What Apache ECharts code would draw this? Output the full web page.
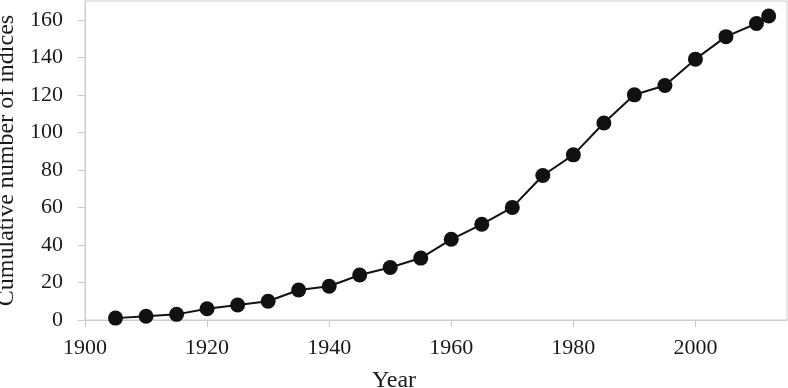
<!DOCTYPE html>
<html>
<head>
<meta charset="utf-8">
<script src="https://cdn.jsdelivr.net/npm/echarts@6/dist/echarts.min.js"></script>
<style>
html, body { margin: 0; padding: 0; background: #fff; }
#chart { width: 788px; height: 388px; }
</style>
</head>
<body>
<div id="chart"></div>
<script>
// 数据
var years = [1905, 1910, 1915, 1920, 1925, 1930, 1935, 1940, 1945, 1950, 1955, 1960,
	1965, 1970, 1975, 1980, 1985, 1990, 1995, 2000, 2005, 2010, 2012];
var counts = [1, 2, 3, 6, 8, 10, 16, 18, 24, 28, 33, 43,
	51, 60, 77, 88, 105, 120, 125, 139, 151, 158, 162];
var xTicks = [1900, 1920, 1940, 1960, 1980, 2000];
var yTicks = [0, 20, 40, 60, 80, 100, 120, 140, 160];

var points = [];
for (var i = 0; i < years.length; i++) {
	points.push([years[i], counts[i]]);
}

var font = '"Liberation Serif", "DejaVu Serif", serif';
var myChart = echarts.init(document.getElementById('chart'));
var option = {
	animation: false,
	title: {
		text: 'Year',
		left: 'center',
		top: 369,
		padding: 0,
		textStyle: {
			fontFamily: font,
			fontSize: 24,
			fontWeight: 'normal',
			color: '#1a1a1a'
		}
	},
	grid: {
		left: 85,
		right: 1,
		top: 1,
		bottom: 68,
		outerBoundsMode: 'none',
		show: true,
		borderColor: '#cccccc',
		borderWidth: 1
	},
	xAxis: {
		type: 'value',
		min: 1900,
		max: 2015,
		interval: 20,
		splitLine: { show: false },
		axisLine: { show: true, lineStyle: { color: '#cccccc', width: 1 } },
		axisTick: { show: true, length: 7, customValues: xTicks, lineStyle: { color: '#cccccc' } },
		axisLabel: {
			customValues: xTicks,
			formatter: function(v) { return String(v); },
			margin: 17,
			fontFamily: font,
			fontSize: 22,
			color: '#1a1a1a'
		}
	},
	yAxis: {
		type: 'value',
		min: 0,
		max: 170,
		interval: 20,
		name: 'Cumulative number of indices',
		nameLocation: 'middle',
		nameGap: 66,
		nameTextStyle: {
			fontFamily: font,
			fontSize: 24,
			color: '#1a1a1a'
		},
		splitLine: { show: false },
		axisLine: { show: true, lineStyle: { color: '#cccccc', width: 1 } },
		axisTick: { show: true, length: 7, customValues: yTicks, lineStyle: { color: '#cccccc' } },
		axisLabel: {
			customValues: yTicks,
			formatter: function(v) { return String(v); },
			margin: 22,
			fontFamily: font,
			fontSize: 22,
			color: '#1a1a1a'
		}
	},
	series: [{
		type: 'line',
		data: points,
		symbol: 'circle',
		symbolSize: 15,
		itemStyle: { color: '#111111' },
		lineStyle: { color: '#111111', width: 2 }
	}]
};
myChart.setOption(option);
</script>
</body>
</html>
